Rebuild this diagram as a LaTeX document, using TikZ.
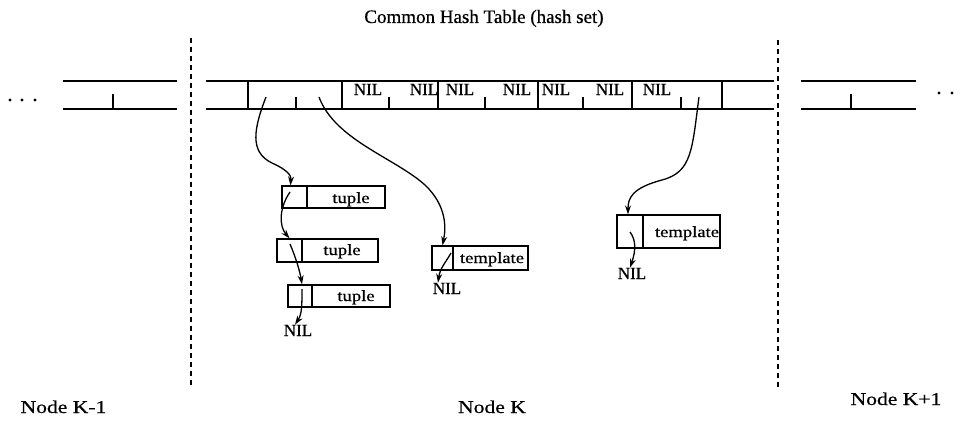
\documentclass[tikz,border=0pt]{standalone}
\usepackage{fontspec}
\setmainfont{Liberation Serif}[FakeStretch=1.2,FakeBold=0.6]
\newfontfamily\plainserif{Liberation Serif}[FakeBold=0.6]
\usetikzlibrary{arrows.meta}
\begin{document}
\begin{tikzpicture}[x=1pt,y=-1pt,
  tbl/.style={line width=1.6pt},
  tick/.style={line width=1.3pt},
  sep/.style={line width=1.7pt, dash pattern=on 5pt off 4pt},
  ptr/.style={line width=1.3pt, -{Stealth[length=9pt,width=6pt]}},
  cell/.style={draw, line width=1.3pt, inner sep=0pt},
  nil/.style={font=\plainserif\fontsize{17}{17}\selectfont, anchor=base, inner sep=0pt},
  lbl/.style={font=\fontsize{18}{18}\selectfont, anchor=base, inner sep=0pt},
  ttl/.style={font=\plainserif\fontsize{19}{19}\selectfont, anchor=base, inner sep=0pt},
  dat/.style={font=\fontsize{15.5}{15.5}\selectfont, anchor=base, inner sep=0pt}
]
\useasboundingbox (0,0) rectangle (962,423);

% title and labels
\node[ttl] (title) at (484,23) {Common Hash Table (hash set)};
\node[lbl] (nkm) at (63.5,413) {Node K-1};
\node[lbl] (nk) at (492,413) {Node K};
\node[lbl] (nkp) at (896,405) {Node K+1};

% separators
\draw[sep] (191,38) -- (191,388);
\draw[sep] (778,40) -- (778,388);

% dots
\foreach \x/\y in {10/100,22/100,35/100,939/93,952/93}
  \fill (\x,\y) circle (1.6pt);

% left table
\draw[tbl] (63,81) -- (177,81);
\draw[tbl] (63,109) -- (177,109);
\draw[tick] (113,94) -- (113,109);

% right table
\draw[tbl] (801,81) -- (916,81);
\draw[tbl] (801,109) -- (916,109);
\draw[tick] (851,94) -- (851,109);

% middle table
\draw[tbl] (206,81) -- (774,81);
\draw[tbl] (206,109) -- (774,109);
\foreach \x in {248,342,438,538,632,722}
  \draw[tick] (\x,81) -- (\x,109);
\foreach \x in {296,389,485,583,681}
  \draw[tick] (\x,97) -- (\x,109);

% NIL entries
\node[nil] (h1) at (368,95) {NIL};
\begin{scope}
  \clip (392,82) rectangle (437.5,108);
  \node[nil] (h2) at (424,95) {NIL};
\end{scope}
\node[nil] (h3) at (460,95) {NIL};
\node[nil] (h4) at (517,95) {NIL};
\node[nil] (h5) at (556,95) {NIL};
\node[nil] (h6) at (610,95) {NIL};
\node[nil] (h7) at (657,95) {NIL};

% pointer origins
\coordinate (p1) at (266,97);
\coordinate (p2) at (319,97);
\coordinate (p3) at (699,97);

% tuple boxes
\node[cell, minimum width=25pt, minimum height=22pt] (t1p) at (294.5,197) {};
\node[cell, minimum width=78pt, minimum height=22pt] (t1d) at (346,197) {};
\node[dat] (t1t) at (351,203) {tuple};

\node[cell, minimum width=25pt, minimum height=23pt] (t2p) at (289.5,250.5) {};
\node[cell, minimum width=76pt, minimum height=23pt] (t2d) at (340,250.5) {};
\node[dat] (t2t) at (342,255) {tuple};

\node[cell, minimum width=24pt, minimum height=22pt] (t3p) at (300,296) {};
\node[cell, minimum width=78pt, minimum height=22pt] (t3d) at (351,296) {};
\node[dat] (t3t) at (356,301) {tuple};

% template boxes
\node[cell, minimum width=21pt, minimum height=24pt] (tmp) at (442.5,258) {};
\node[cell, minimum width=75pt, minimum height=24pt] (tmd) at (490.5,258) {};
\node[dat] (tmt) at (492,263) {template};

\node[cell, minimum width=26pt, minimum height=33pt] (trp) at (630,231.5) {};
\node[cell, minimum width=77pt, minimum height=33pt] (trd) at (681.5,231.5) {};
\node[dat] (trt) at (687,237) {template};

% NIL terminals
\node[nil] (n1) at (298,336) {NIL};
\node[nil] (n2) at (447,294) {NIL};
\node[nil] (n3) at (632,279) {NIL};

% pointer starts inside cells
\coordinate (b1) at (290,192);
\coordinate (b2) at (290,244);
\coordinate (b3) at (302,289);
\coordinate (b4) at (451,253);
\coordinate (b5) at (630,232);

% connectors
\draw[ptr] (p1) .. controls (254,128) and (249,152) .. (272,163)
  .. controls (292,172) and (291,178) .. ([xshift=-4pt]t1p.north);
\draw[ptr] (b1) .. controls (279,208) and (279,226) .. (t2p.north);
\draw[ptr] (b2) .. controls (296,258) and (300,272) .. ([xshift=2pt]t3p.north);
\draw[ptr] (b3) .. controls (302,305) and (302,314) .. ([xshift=-3pt]n1.north);
\draw[ptr] (p2) .. controls (335,140) and (395,158) .. (425,185)
  .. controls (447,206) and (446,228) .. (tmp.north);
\draw[ptr] (b4) .. controls (446,262) and (440,268) .. ([xshift=-9pt]n2.north);
\draw[ptr] (p3) .. controls (692,150) and (692,172) .. (662,180)
  .. controls (632,188) and (628,198) .. ([xshift=-2pt]trp.north);
\draw[ptr] (b5) .. controls (636,240) and (636,250) .. ([xshift=-2pt]n3.north);
\end{tikzpicture}
\end{document}
